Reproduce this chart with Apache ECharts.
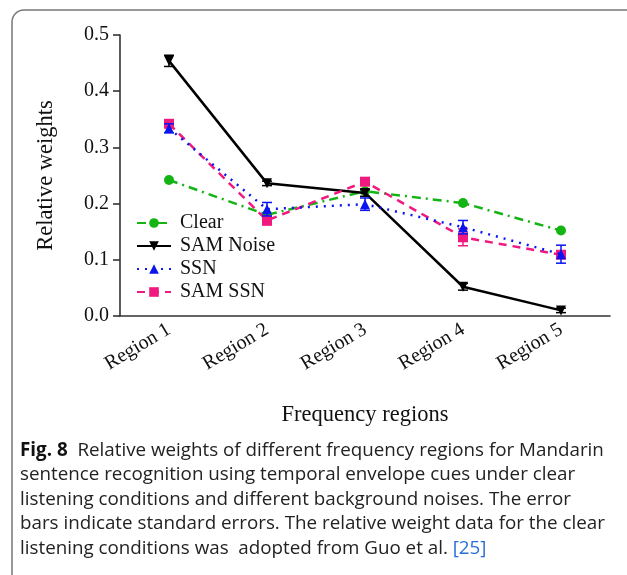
<!DOCTYPE html>
<html>
<head>
<meta charset="utf-8">
<script src="https://cdn.jsdelivr.net/npm/echarts@6/dist/echarts.min.js"></script>
<style>html,body{margin:0;padding:0;background:#fff}#c{width:627px;height:575px}</style>
</head>
<body>
<div id="c"></div>
<script>
const categories = ['Region 1', 'Region 2', 'Region 3', 'Region 4', 'Region 5'];
const yTicks = [0, 0.1, 0.2, 0.3, 0.4, 0.5];
const clear = [0.242, 0.180, 0.222, 0.201, 0.152];
const clearErr = [0, 0, 0, 0, 0];
const samNoise = [0.454, 0.236, 0.219, 0.052, 0.010];
const samNoiseErr = [0.010, 0.004, 0.006, 0.006, 0.004];
const ssn = [0.334, 0.190, 0.199, 0.158, 0.110];
const ssnErr = [0.008, 0.012, 0.011, 0.012, 0.016];
const samSsn = [0.342, 0.170, 0.239, 0.140, 0.109];
const samSsnErr = [0.006, 0.008, 0.005, 0.015, 0.006];

const names = ['Clear', 'SAM Noise', 'SSN', 'SAM SSN'];
const colors = ['#14b414', '#000000', '#0a14f0', '#f0197f'];
const serif = '"Liberation Serif", "Times New Roman", serif';

function errSeries(vals, errs, color, z) {
  return {
    type: 'custom', z: z, silent: true,
    data: vals.map((v, i) => [i, v, errs[i]]),
    renderItem: function (params, api) {
      const x = api.coord([api.value(0), 0])[0];
      const v = api.value(1), e = api.value(2);
      if (!e) return null;
      const top = api.coord([api.value(0), v + e])[1];
      const bot = api.coord([api.value(0), v - e])[1];
      const st = { stroke: color, lineWidth: 1.5 };
      return { type: 'group', children: [
        { type: 'line', shape: { x1: x, y1: top, x2: x, y2: bot }, style: st },
        { type: 'line', shape: { x1: x - 5, y1: top, x2: x + 5, y2: top }, style: st },
        { type: 'line', shape: { x1: x - 5, y1: bot, x2: x + 5, y2: bot }, style: st }
      ]};
    }
  };
}

function lineSeries(name, vals, color, symbol, symbolSize, ltype, z, rot) {
  return {
    name: name, type: 'line', data: vals, z: z,
    symbol: symbol, symbolSize: symbolSize, symbolRotate: rot || 0, showSymbol: true,
    itemStyle: { color: color },
    lineStyle: { color: color, width: 2.5, type: ltype },
    emphasis: { disabled: true }
  };
}

const chart = echarts.init(document.getElementById('c'), null, { renderer: 'canvas' });
chart.setOption({
  animation: false,
  grid: { left: 120, right: 17, top: 35, bottom: 259, containLabel: false },
  legend: {
    data: names,
    orient: 'vertical',
    left: 131, top: 208,
    itemWidth: 34, itemHeight: 12, itemGap: 3,
    textStyle: { fontFamily: serif, fontSize: 20, color: '#111', padding: [0, 0, 0, 4] }
  },
  xAxis: {
    type: 'category', data: categories, boundaryGap: true,
    name: 'Frequency regions', nameLocation: 'middle', nameGap: 88,
    nameTextStyle: { fontFamily: serif, fontSize: 22.5, color: '#111' },
    axisLine: { lineStyle: { color: '#333', width: 1.6 } },
    axisTick: { alignWithLabel: true, length: 7, lineStyle: { color: '#333', width: 1.6 } },
    axisLabel: { rotate: 31, margin: 12, fontFamily: serif, fontSize: 20, color: '#111' }
  },
  yAxis: {
    type: 'value', min: yTicks[0], max: yTicks[yTicks.length - 1], interval: 0.1,
    name: 'Relative weights', nameLocation: 'middle', nameGap: 62,
    nameTextStyle: { fontFamily: serif, fontSize: 22.5, color: '#111' },
    splitLine: { show: false },
    axisLine: { show: true, lineStyle: { color: '#333', width: 1.6 } },
    axisTick: { show: true, length: 7, lineStyle: { color: '#333', width: 1.6 } },
    axisLabel: { margin: 11, fontFamily: serif, fontSize: 20, color: '#111',
      formatter: v => v.toFixed(1) }
  },
  series: [
    lineSeries('Clear', clear, colors[0], 'circle', 10, [9, 5, 2, 5], 2),
    errSeries(clear, clearErr, colors[0], 2),
    lineSeries('SAM Noise', samNoise, colors[1], 'triangle', 10, 'solid', 3, 180),
    errSeries(samNoise, samNoiseErr, colors[1], 3),
    lineSeries('SAM SSN', samSsn, colors[3], 'rect', 10, [8, 6], 4),
    errSeries(samSsn, samSsnErr, colors[3], 4),
    lineSeries('SSN', ssn, colors[2], 'triangle', 10, [2, 6], 5),
    errSeries(ssn, ssnErr, colors[2], 5)
  ],
  graphic: [
    { type: 'rect', shape: { x: 12, y: 10, width: 640, height: 590, r: 12 },
      style: { fill: null, stroke: '#777', lineWidth: 1.5 }, silent: true, z: -1 },
    { type: 'text', left: 20, top: 438, silent: true,
      style: {
        text: '{b|Fig. 8}  Relative weights of different frequency regions for Mandarin\n' +
              'sentence recognition using temporal envelope cues under clear\n' +
              'listening conditions and different background noises. The error\n' +
              'bars indicate standard errors. The relative weight data for the clear\n' +
              'listening conditions was  adopted from Guo et al. {l|[25]}',
        fontFamily: '"Open Sans", "Noto Sans", sans-serif', fontSize: 18.8, lineHeight: 24.5,
        fill: '#222',
        rich: {
          b: { fontWeight: 'bold', fontFamily: '"Open Sans", "Noto Sans", sans-serif', fontSize: 18.8, fill: '#111' },
          l: { fill: '#2a6fd6', fontFamily: '"Open Sans", "Noto Sans", sans-serif', fontSize: 18.8 }
        }
      }
    }
  ]
});
</script>
</body>
</html>
